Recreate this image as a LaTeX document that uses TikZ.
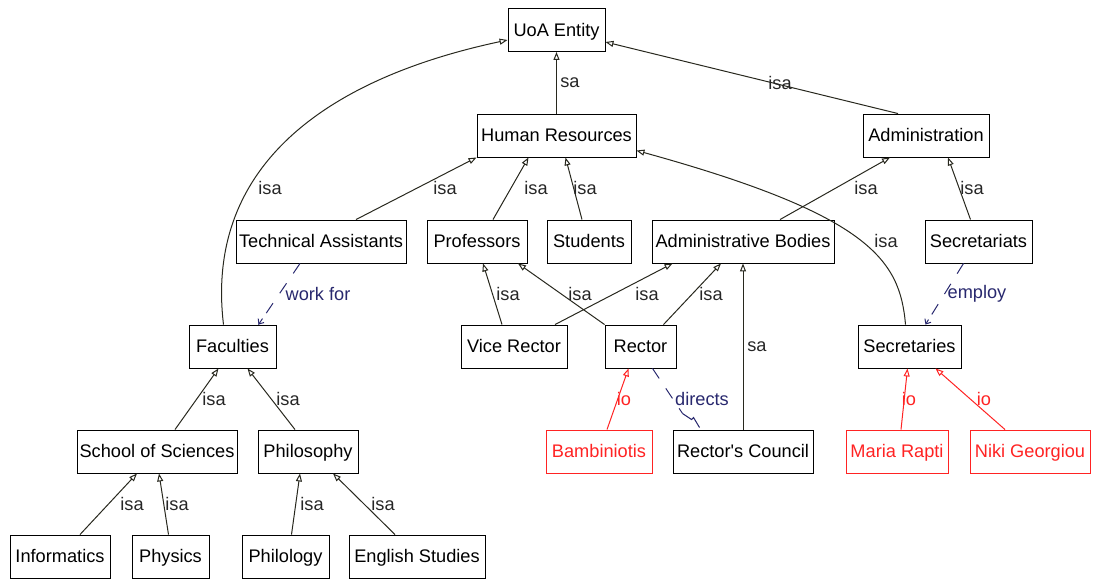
\documentclass[tikz,border=0pt]{standalone}
\usepackage{fontspec}
\setmainfont{Liberation Sans}
\usetikzlibrary{arrows.meta,calc}
\definecolor{edgec}{RGB}{40,40,30}
\definecolor{navyc}{RGB}{40,40,110}
\definecolor{redc}{RGB}{255,35,35}
\tikzset{
  box/.style={draw=black, line width=0.9pt, rectangle, minimum height=43pt, inner sep=1pt,
              text height=14pt, text depth=1.5pt,
              font=\fontsize{18.2}{21}\selectfont, fill=white},
  rbox/.style={box, draw=redc, text=redc},
  isa/.style={draw=edgec, line width=1pt, -{Triangle[open, length=8pt, width=6pt]}},
  io/.style={isa, draw=redc},
  rel/.style={draw=navyc, line width=1pt, dash pattern=on 12pt off 12pt},
  reltip/.style={draw=navyc, line width=1pt, -{Straight Barb[length=4pt,width=7pt]}},
  lbl/.style={font=\fontsize{18.2}{21}\selectfont, inner sep=0pt, text=black!85},
  rlbl/.style={lbl, text=redc},
  nlbl/.style={lbl, text=navyc},
}
\begin{document}
\begin{tikzpicture}[x=1pt,y=-1pt]
\useasboundingbox (0,0) rectangle (1093,581);
% nodes
\node[box, minimum width=97]  (uoa)   at (556.5,30)   {UoA Entity};
\node[box, minimum width=159] (hr)    at (556.5,135.5) {Human Resources};
\node[box, minimum width=126] (adm)   at (926,135.5)  {Administration};
\node[box, minimum width=170] (ta)    at (321,241.5)  {Technical Assistants};
\node[box, minimum width=100] (prof)  at (477,241.5)  {Professors};
\node[box, minimum width=84]  (stud)  at (589,241.5)  {Students};
\node[box, minimum width=182] (ab)    at (743,241.5)  {Administrative Bodies};
\node[box, minimum width=107] (sect)  at (978.5,241.5) {Secretariats};
\node[box, minimum width=87]  (fac)   at (232.5,346.5) {Faculties};
\node[box, minimum width=106] (vr)    at (514,346.5)  {Vice Rector};
\node[box, minimum width=71]  (rec)   at (640.5,346.5) {Rector};
\node[box, minimum width=103] (secs)  at (909.5,346.5) {Secretaries};
\node[box, minimum width=160] (sos)   at (157,451.5)  {School of Sciences};
\node[box, minimum width=100] (phil)  at (308,451.5)  {Philosophy};
\node[rbox, minimum width=106] (bamb) at (599,451.5)  {Bambiniotis};
\node[box, minimum width=140] (rc)    at (743,451.5)  {Rector\textquotesingle s Council};
\node[rbox, minimum width=102] (mr)   at (897,451.5)  {Maria Rapti};
\node[rbox, minimum width=120] (ng)   at (1030,451.5) {Niki Georgiou};
\node[box, minimum width=100] (inf)   at (60,556.5)   {Informatics};
\node[box, minimum width=77]  (phys)  at (170.5,556.5) {Physics};
\node[box, minimum width=87]  (philo) at (285.5,556.5) {Philology};
\node[box, minimum width=136] (eng)   at (417,556.5)  {English Studies};

% isa / sa edges
\draw[isa] ($(fac.north)+(-9,0)$) .. controls (205,170) and (320,80) .. ($(uoa.west)+(0,10)$);
\draw[isa] (hr.north) -- (uoa.south);
\draw[isa] ($(adm.north)+(-28,0)$) -- ($(uoa.east)+(0,12)$);
\draw[isa] ($(ta.north)+(35,0)$) -- (hr.south west);
\draw[isa] ($(prof.north)+(16,0)$) -- ($(hr.south)+(-28,0)$);
\draw[isa] ($(stud.north)+(-7,0)$) -- ($(hr.south)+(9,0)$);
\draw[isa] ($(ab.north)+(37,0)$) -- ($(adm.south)+(-36,0)$);
\draw[isa] ($(sect.north)+(-8,0)$) -- ($(adm.south)+(22,0)$);
\draw[isa] ($(secs.north)+(-4,0)$) .. controls (900,260) and (870,215) .. ($(hr.east)+(0,15)$);
\draw[isa] ($(vr.north)+(-12,0)$) -- ($(prof.south)+(6,0)$);
\draw[isa] (rec.north west) -- ($(prof.south)+(41,0)$);
\draw[isa] ($(vr.north)+(41,0)$) -- ($(ab.south west)+(21,0)$);
\draw[isa] ($(rec.north)+(23,0)$) -- ($(ab.south)+(-22,0)$);
\draw[isa] (rc.north) -- (ab.south);
\draw[isa] ($(sos.north)+(18,0)$) -- ($(fac.south)+(-14,0)$);
\draw[isa] ($(phil.north)+(-13,0)$) -- ($(fac.south)+(15,0)$);
\draw[isa] ($(inf.north)+(20,0)$) -- ($(sos.south)+(-20,0)$);
\draw[isa] ($(phys.north)+(-2,0)$) -- ($(sos.south)+(2,0)$);
\draw[isa] ($(philo.north)+(6,0)$) -- ($(phil.south)+(-8,0)$);
\draw[isa] ($(eng.north)+(-22,0)$) -- ($(phil.south)+(25,0)$);

% io edges
\draw[io] ($(bamb.north)+(8,0)$) -- ($(rec.south)+(-12,0)$);
\draw[io] ($(mr.north)+(4,0)$) -- ($(secs.south)+(-2,0)$);
\draw[io] ($(ng.north)+(-25,0)$) -- ($(secs.south)+(26,0)$);

% relation edges
\draw[rel] ($(ta.south)+(-21,0)$) -- ($(fac.north)+(26,0)$);
\draw[reltip] ($(fac.north)+(30,-6)$) -- ($(fac.north)+(26,0)$);
\draw[rel] ($(sect.south)+(-15,0)$) -- ($(secs.north)+(16,0)$);
\draw[reltip] ($(secs.north)+(19,-5)$) -- ($(secs.north)+(16,0)$);
\coordinate (zz) at ($(rc.north west)+(10,-16)$);
\draw[rel] ($(rec.south)+(12,0)$) -- (zz);
\draw[draw=navyc, line width=1pt] (zz) -- ++(9,6) -- ++(2,-2) -- ($(rc.north west)+(27,-2)$);

% labels
\node[lbl] (l1)  at (270,188) {isa};
\node[lbl] (l2)  at (570,83)  {sa};
\node[lbl] (l3)  at (780,83)  {isa};
\node[lbl] (l4)  at (445,188) {isa};
\node[lbl] (l5)  at (536,188) {isa};
\node[lbl] (l6)  at (585,188) {isa};
\node[lbl] (l7)  at (866,188) {isa};
\node[lbl] (l8)  at (972,188) {isa};
\node[lbl] (l9)  at (886,241) {isa};
\node[lbl] (l10) at (508,294) {isa};
\node[lbl] (l11) at (580,294) {isa};
\node[lbl] (l12) at (647,294) {isa};
\node[lbl] (l13) at (711,294) {isa};
\node[nlbl] (l14) at (318,294) {work for};
\node[nlbl] (l15) at (977,294) {employ};
\node[lbl] (l16) at (757,347) {sa};
\node[nlbl] (l17) at (702,399) {directs};
\node[rlbl] (l18) at (624,399) {io};
\node[rlbl] (l19) at (909,399) {io};
\node[rlbl] (l20) at (984,399) {io};
\node[lbl] (l21) at (214,399) {isa};
\node[lbl] (l22) at (288,399) {isa};
\node[lbl] (l23) at (132,504) {isa};
\node[lbl] (l24) at (177,504) {isa};
\node[lbl] (l25) at (312,504) {isa};
\node[lbl] (l26) at (383,504) {isa};
\end{tikzpicture}
\end{document}
